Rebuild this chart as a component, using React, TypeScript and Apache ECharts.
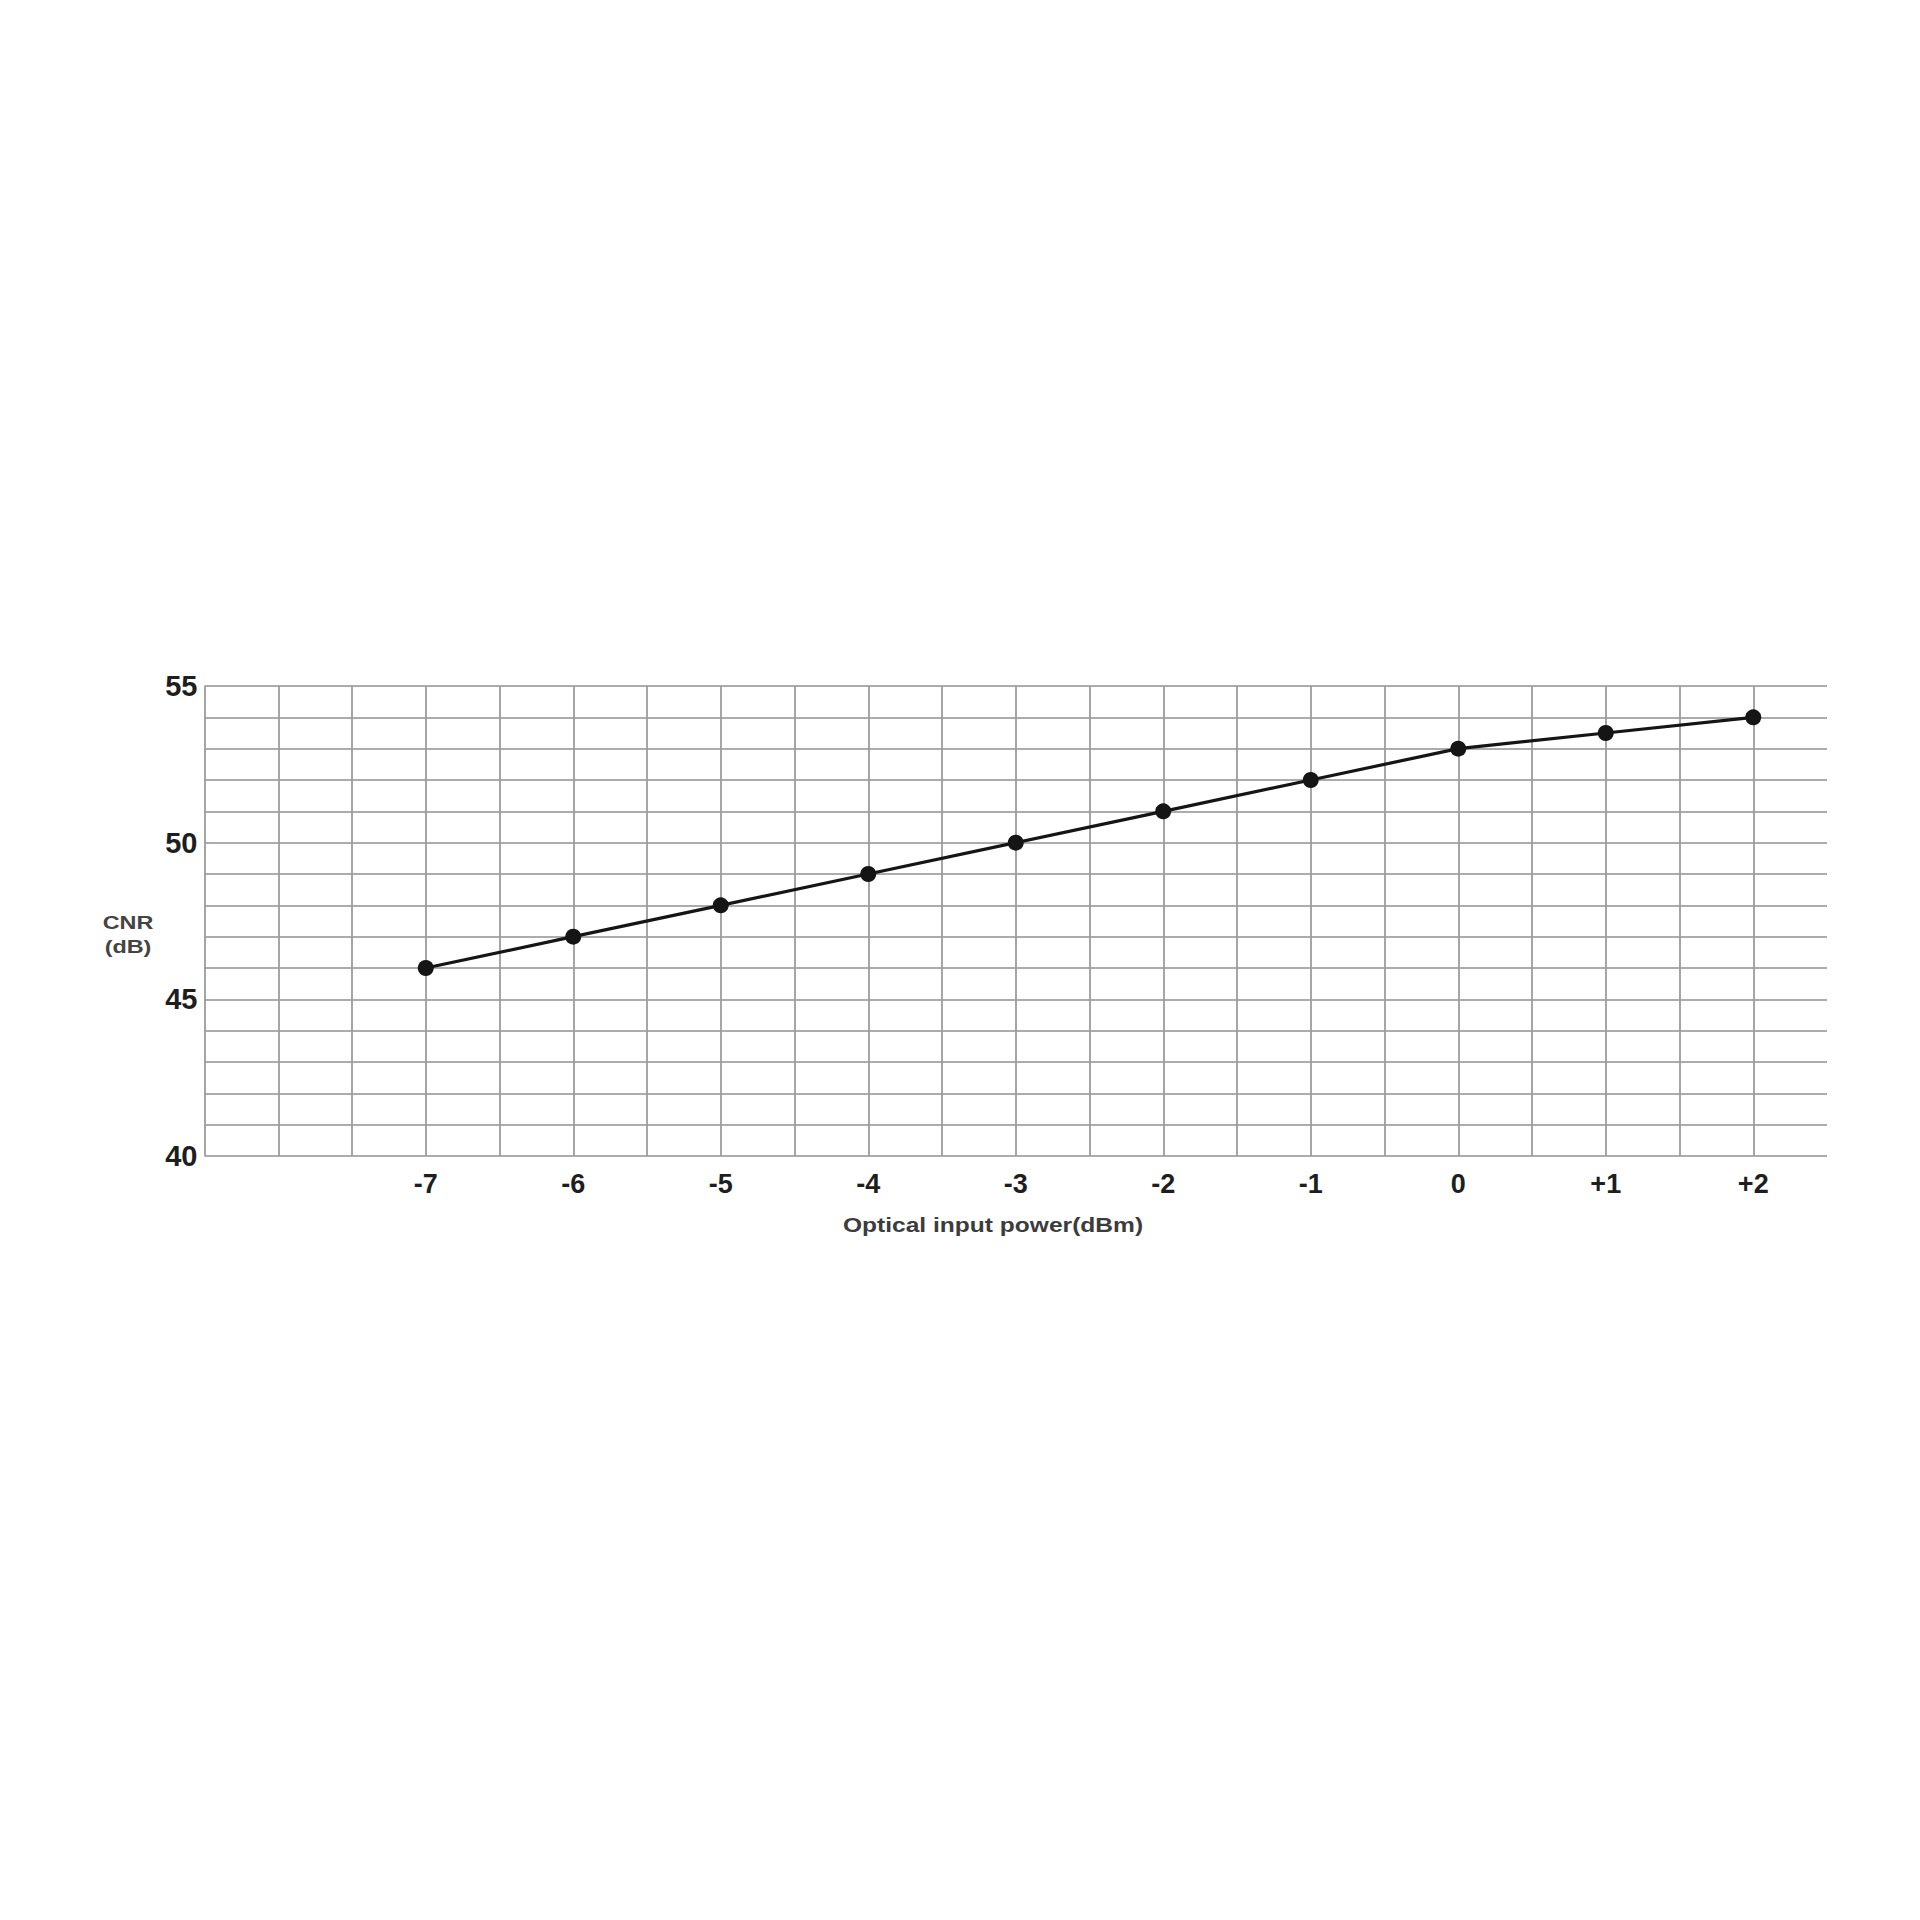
import React, { useEffect, useRef } from "react";
import * as echarts from "echarts";

const powerLevels = [-7, -6, -5, -4, -3, -2, -1, 0, 1, 2];
const cnrValues = [46, 47, 48, 49, 50, 51, 52, 53, 53.5, 54];
const xTitle = "Optical input power(dBm)";
const yTitleLines = ["CNR", "(dB)"];

export default function App() {
  const ref = useRef<HTMLDivElement>(null);
  useEffect(() => {
    if (!ref.current) return;
    const chart = echarts.init(ref.current, null, { renderer: "svg" });
    const font = "'Liberation Sans', Arial, sans-serif";
    chart.setOption({
      animation: false,
      backgroundColor: "#ffffff",
      grid: { left: 204.5, right: 93, top: 686, bottom: 764 },
      xAxis: {
        type: "value",
        min: -8.5,
        max: 2.5,
        interval: 0.5,
        axisLine: { show: false },
        axisTick: { show: false },
        axisLabel: {
          margin: 14,
          fontSize: 27,
          fontWeight: "bold",
          color: "#1e1e1e",
          fontFamily: font,
          formatter: (v: number) =>
            Number.isInteger(v) && v >= -7 ? (v > 0 ? "+" + v : String(v)) : "",
        },
        splitLine: {
          show: true,
          showMaxLine: false,
          lineStyle: { color: "#9c9c9c", width: 1.8 },
        },
      },
      yAxis: {
        type: "value",
        min: 40,
        max: 55,
        interval: 1,
        axisLine: { show: false },
        axisTick: { show: false },
        axisLabel: {
          margin: 7,
          fontSize: 29,
          fontWeight: "bold",
          color: "#1e1e1e",
          fontFamily: font,
          formatter: (v: number) => (v % 5 === 0 ? String(v) : ""),
        },
        splitLine: {
          show: true,
          lineStyle: { color: "#acacac", width: 1.8 },
        },
      },
      graphic: [
        {
          type: "text",
          x: 993,
          y: 1225,
          scaleX: 1.17,
          style: {
            text: xTitle,
            fontSize: 21,
            fontWeight: "bold",
            fontFamily: font,
            fill: "#3c3c3c",
            align: "center",
            verticalAlign: "middle",
          },
        },
        {
          type: "text",
          x: 128,
          y: 922.5,
          scaleX: 1.3,
          style: {
            text: yTitleLines[0],
            fontSize: 18,
            fontWeight: "bold",
            fontFamily: font,
            fill: "#444",
            align: "center",
            verticalAlign: "middle",
          },
        },
        {
          type: "text",
          x: 128,
          y: 946.5,
          scaleX: 1.3,
          style: {
            text: yTitleLines[1],
            fontSize: 18,
            fontWeight: "bold",
            fontFamily: font,
            fill: "#444",
            align: "center",
            verticalAlign: "middle",
          },
        },
      ],
      series: [
        {
          type: "line",
          data: powerLevels.map((p, i) => [p, cnrValues[i]]),
          symbol: "circle",
          symbolSize: 16,
          itemStyle: { color: "#151515" },
          lineStyle: { color: "#151515", width: 3.2 },
        },
      ],
    });
    return () => chart.dispose();
  }, []);
  return (
    <div
      ref={ref}
      style={{ position: "absolute", left: 0, top: 0, width: 1920, height: 1920 }}
    />
  );
}
